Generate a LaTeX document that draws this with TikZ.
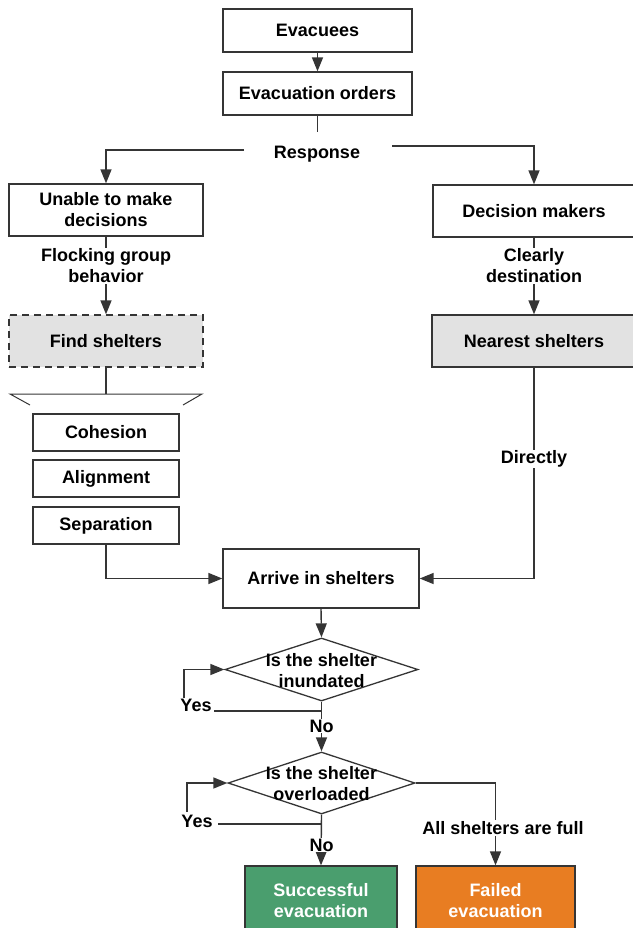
\documentclass[tikz,border=0pt]{standalone}
\usepackage{fontspec}
\setmainfont{Liberation Sans}
\usetikzlibrary{shapes.geometric,arrows.meta}
\definecolor{edge}{HTML}{353535}
\definecolor{shade}{HTML}{E2E2E2}
\definecolor{okgreen}{HTML}{4A9E6E}
\definecolor{failorange}{HTML}{E87D22}
\begin{document}
\begin{tikzpicture}[x=1pt,y=-1pt,
  font=\fontsize{18}{21}\selectfont\bfseries,
  box/.style={draw=edge,line width=1.3pt,align=center,inner sep=0pt},
  dbox/.style={box,dash pattern=on 7pt off 5pt},
  choice/.style={diamond,draw=edge,line width=1.3pt,inner sep=0pt},
  arr/.style={draw=edge,line width=1.4pt,-{Triangle[length=14pt,width=11pt]}},
  ln/.style={draw=edge,line width=1.4pt},
  thin/.style={draw=edge,line width=1pt},
  lbl/.style={align=center,fill=white,inner sep=1pt},
  txt/.style={align=center,inner sep=0pt}]
\useasboundingbox (0,0) rectangle (632,928);

% boxes
\node[box,minimum width=189pt,minimum height=43pt] (ev) at (317.5,30.5) {Evacuees};
\node[box,minimum width=189pt,minimum height=43pt] (eo) at (317.5,93.5) {Evacuation orders};
\coordinate (eoend) at (317.5,132);
\node[txt] (resp) at (317,154) {Response};
\coordinate (rl) at (244,150);
\coordinate (rr) at (392,146);

\node[box,minimum width=194pt,minimum height=52pt] (un) at (106,210) {Unable to make\\decisions};
\node[box,minimum width=202pt,minimum height=52pt] (dm) at (534,211) {Decision makers};
\node[dbox,fill=shade,minimum width=194pt,minimum height=52pt] (fs) at (106,341) {Find shelters};
\node[box,fill=shade,minimum width=204pt,minimum height=52pt] (ns) at (534,341) {Nearest shelters};

\node[box,minimum width=146pt,minimum height=37pt] (coh) at (106,432.5) {Cohesion};
\node[box,minimum width=146pt,minimum height=37pt] (ali) at (106,478.5) {Alignment};
\node[box,minimum width=146pt,minimum height=37pt] (sep) at (106,525.5) {Separation};

\node[box,minimum width=196pt,minimum height=59pt] (ar) at (321,578.5) {Arrive in shelters};

\node[choice,minimum width=193pt,minimum height=63pt] (d1) at (321.5,669.5) {};
\node[choice,minimum width=187pt,minimum height=62pt] (d2) at (321.5,783) {};

\node[box,fill=okgreen,text=white,minimum width=152pt,minimum height=70pt] (ok) at (321,901) {Successful\\evacuation};
\node[box,fill=failorange,text=white,minimum width=159pt,minimum height=70pt] (fl) at (495.5,901) {Failed\\evacuation};

% bracket
\coordinate (bt) at (106,394);
\coordinate (bl) at (10,394);
\coordinate (br) at (202,394);
\coordinate (bl2) at (30,405);
\coordinate (br2) at (183,405);

% yes loops
\coordinate (j1) at (321.5,711);
\coordinate (j2) at (321.5,824);
\node[txt] (yes1) at (196,705) {Yes};
\node[txt] (yes2) at (197,821) {Yes};
\coordinate (y1a) at (214,711);
\coordinate (y1b) at (184,698);
\coordinate (y2a) at (218,824);
\coordinate (y2b) at (187,812);

% connectors
\draw[arr] (ev) -- (eo);
\draw[ln] (eo.south) -- (eoend);
\draw[arr] (rl) -| (un.north);
\draw[arr] (rr) -| (dm.north);
\draw[arr] (un.south) -- (fs.north);
\draw[arr] (dm.south) -- (ns.north);
\draw[ln] (fs.south) -- (bt);
\draw[thin] (bl2) -- (bl) -- (br) -- (br2);
\draw[arr] (sep.south) |- (ar.west);
\draw[arr] (ns.south) |- (ar.east);
\draw[arr] (ar.south) -- (d1.north);
\draw[arr] (d1.south) -- (d2.north);
\draw[ln] (j1) -- (y1a);
\draw[arr] (y1b) |- (d1.west);
\draw[arr] (d2.south) -- (ok.north);
\draw[ln] (j2) -- (y2a);
\draw[arr] (y2b) |- (d2.west);
\draw[arr] (d2.east) -| (fl.north);

% labels on connectors
\node[lbl] (flock) at (106,266) {Flocking group\\behavior};
\node[lbl] (clear) at (534,266) {Clearly\\destination};
\node[lbl] (direct) at (534,459) {Directly};
\node[lbl] (no1) at (321.5,726) {No};
\node[lbl] (no2) at (321.5,845) {No};
\node[lbl] (full) at (503,828) {All shelters are full};

% diamond texts
\node[txt] (d1t) at (321.5,670.5) {Is the shelter\\inundated};
\node[txt] (d2t) at (321.5,783.5) {Is the shelter\\overloaded};
\end{tikzpicture}
\end{document}
